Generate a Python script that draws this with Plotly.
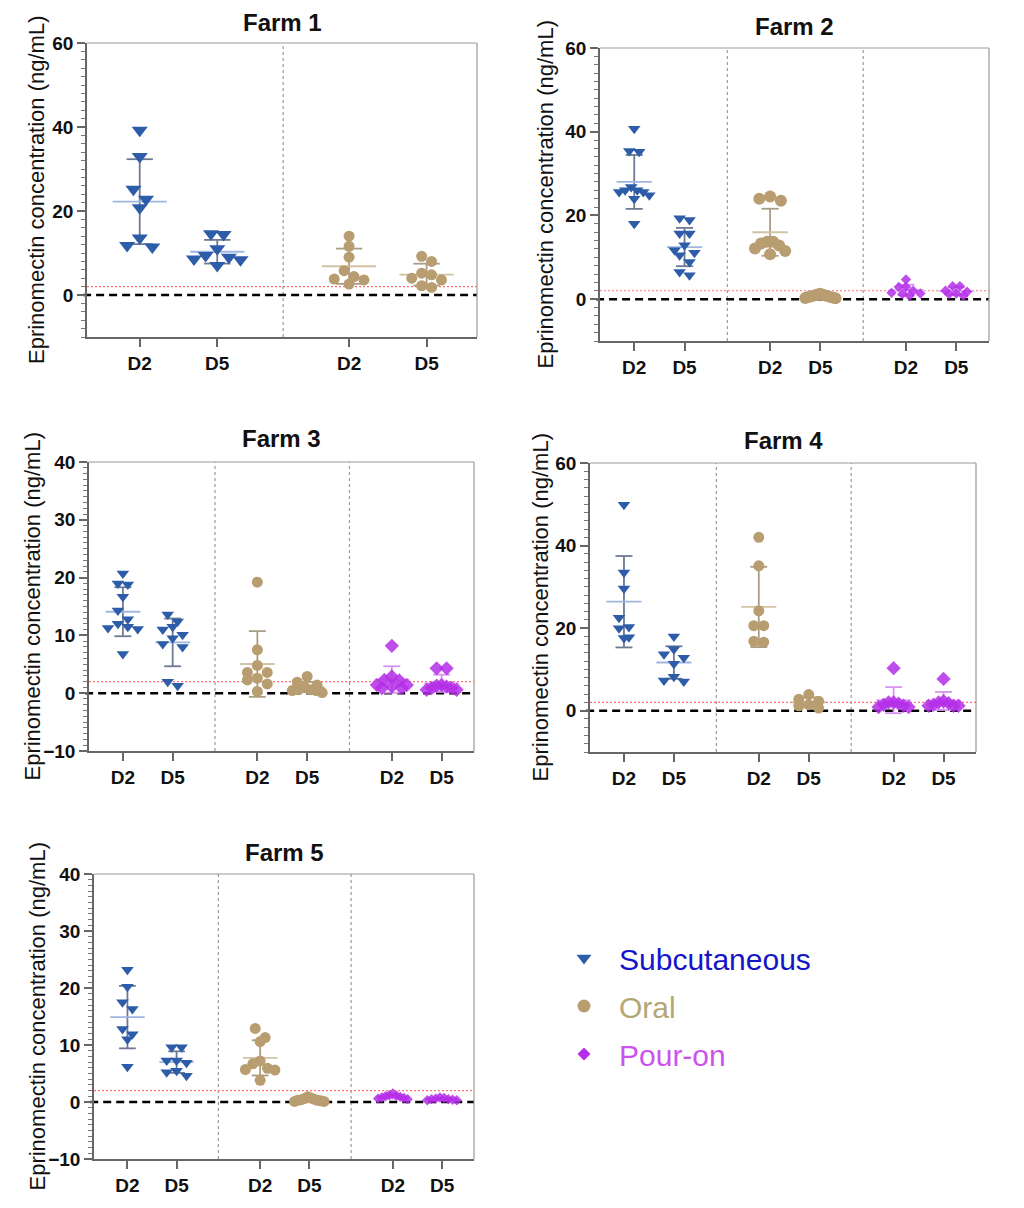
import numpy as np
import plotly.graph_objects as go

# ---------------- data (ng/mL) ----------------
farm1_sub_d2 = [39.2, 33.0, 25.2, 22.8, 20.8, 13.6, 11.8, 11.4]
farm1_sub_d5 = [14.6, 14.4, 11.0, 9.4, 9.0, 8.6, 8.4, 7.0]
farm1_oral_d2 = [14.0, 11.6, 9.0, 5.8, 4.4, 3.8, 3.6, 2.6]
farm1_oral_d5 = [9.2, 8.0, 5.2, 4.8, 4.0, 3.6, 2.2, 1.8]

farm2_sub_d2 = [40.7, 35.4, 35.2, 26.8, 26.0, 26.0, 25.6, 25.6, 24.8, 24.0, 18.0]
farm2_sub_d5 = [19.3, 18.9, 15.7, 15.7, 12.9, 11.7, 11.1, 10.5, 8.9, 6.5, 5.7]
farm2_oral_d2 = [24.5, 24.0, 23.5, 13.7, 13.7, 13.3, 12.8, 12.1, 11.5, 10.7]
farm2_oral_d5 = [1.3, 1.1, 1.0, 0.9, 0.8, 0.7, 0.6, 0.5, 0.4, 0.3, 0.2]
farm2_pour_d2 = [4.7, 2.9, 2.9, 2.0, 1.5, 1.35, 1.2, 0.8]
farm2_pour_d5 = [3.1, 3.1, 2.0, 1.75, 1.35, 1.2, 0.8]

farm3_sub_d2 = [20.7, 19.0, 18.8, 16.7, 14.3, 12.8, 12.0, 11.5, 11.3, 11.1, 6.8]
farm3_sub_d5 = [13.6, 12.4, 11.5, 11.0, 10.1, 9.5, 8.5, 8.0, 2.0, 1.3]
farm3_oral_d2 = [19.2, 7.5, 4.8, 3.6, 3.6, 2.6, 2.3, 1.6, 0.3]
farm3_oral_d5 = [2.9, 1.9, 1.4, 1.15, 0.6, 0.6, 0.45, 0.45, 0.1]
farm3_pour_d2 = [8.2, 2.9, 2.3, 2.2, 1.4, 1.4, 1.15, 0.9, 0.9]
farm3_pour_d5 = [4.3, 4.3, 1.4, 1.3, 1.15, 0.9, 0.9, 0.6, 0.6]

farm4_sub_d2 = [49.9, 33.5, 29.6, 22.5, 20.3, 20.0, 17.8, 17.6]
farm4_sub_d5 = [18.0, 14.9, 13.7, 12.8, 11.4, 8.2, 7.3, 7.1]
farm4_oral_d2 = [42.0, 35.1, 24.2, 20.6, 20.6, 16.8, 16.6]
farm4_oral_d5 = [3.9, 2.8, 2.3, 1.45, 1.2, 0.65]
farm4_pour_d2 = [10.3, 2.0, 2.0, 1.7, 1.45, 1.2, 0.9, 0.9]
farm4_pour_d5 = [7.7, 2.3, 2.0, 1.85, 1.45, 1.2, 1.2, 1.2]

farm5_sub_d2 = [23.2, 20.2, 17.5, 16.3, 12.8, 11.9, 11.0, 6.2]
farm5_sub_d5 = [9.6, 9.6, 7.3, 7.3, 6.9, 5.5, 5.2, 4.6]
farm5_oral_d2 = [12.9, 11.3, 10.6, 7.2, 6.7, 5.9, 5.7, 5.6, 3.8]
farm5_oral_d5 = [0.9, 0.7, 0.6, 0.5, 0.4, 0.3, 0.3, 0.2, 0.1, 0.1]
farm5_pour_d2 = [1.5, 1.2, 1.1, 1.0, 0.9, 0.8, 0.7, 0.6, 0.5]
farm5_pour_d5 = [0.8, 0.7, 0.6, 0.5, 0.5, 0.4, 0.3, 0.3]

day_labels = ["D2", "D5"]
farm_titles = ["Farm 1", "Farm 2", "Farm 3", "Farm 4", "Farm 5"]
route_labels = {"sub": "Subcutaneous", "oral": "Oral", "pour": "Pour-on"}
loq_value = 2.0
y_title = "Eprinomectin concentration (ng/mL)"

farms = [
    {"sub": (farm1_sub_d2, farm1_sub_d5), "oral": (farm1_oral_d2, farm1_oral_d5)},
    {"sub": (farm2_sub_d2, farm2_sub_d5), "oral": (farm2_oral_d2, farm2_oral_d5),
     "pour": (farm2_pour_d2, farm2_pour_d5)},
    {"sub": (farm3_sub_d2, farm3_sub_d5), "oral": (farm3_oral_d2, farm3_oral_d5),
     "pour": (farm3_pour_d2, farm3_pour_d5)},
    {"sub": (farm4_sub_d2, farm4_sub_d5), "oral": (farm4_oral_d2, farm4_oral_d5),
     "pour": (farm4_pour_d2, farm4_pour_d5)},
    {"sub": (farm5_sub_d2, farm5_sub_d5), "oral": (farm5_oral_d2, farm5_oral_d5),
     "pour": (farm5_pour_d2, farm5_pour_d5)},
]

# ---------------- styling / layout ----------------
OFF = 8                      # page body margin of the html page
W, H = 1024 - OFF, 1208 - OFF
FONT = "Liberation Sans, Arial, sans-serif"


def px_x(p):
    return (p - OFF) / W


def px_y(p):
    return 1 - (p - OFF) / H


STYLE = {
    "sub": dict(marker="#2d5ca8", err="#6d7a92", mean="#9fb6e2", symbol="triangle-down",
                text="#1515c8", opacity=1.0, leg_size=13),
    "oral": dict(marker="#b89d70", err="#a99d86", mean="#d0c2a2", symbol="circle",
                 text="#b3a676", opacity=1.0, leg_size=13),
    "pour": dict(marker="#b42ee8", err="#d993f3", mean="#e0acf6", symbol="diamond",
                 text="#cc52ee", opacity=0.85, leg_size=10),
}

# panel pixel boxes: (left, right, top, bottom), y range, major dtick, minor dtick, marker sizes
PANELS = [
    dict(box=(87, 477, 43, 337), yr=(-10, 60), dt=20, mdt=2, size=dict(sub=14, oral=11),
         title_y=23, ytitle_x=37),
    dict(box=(600, 989, 48, 341), yr=(-10, 60), dt=20, mdt=2, size=dict(sub=11, oral=12, pour=8),
         title_y=26, ytitle_x=545),
    dict(box=(89, 474, 462, 751), yr=(-10, 40), dt=10, mdt=1, size=dict(sub=11, oral=11, pour=11),
         title_y=438, ytitle_x=32),
    dict(box=(590, 976, 463, 752), yr=(-10, 60), dt=20, mdt=2, size=dict(sub=11, oral=11, pour=11),
         title_y=440, ytitle_x=540),
    dict(box=(94, 474, 874, 1159), yr=(-10, 40), dt=10, mdt=1, size=dict(sub=11, oral=11, pour=8),
         title_y=852, ytitle_x=37),
]

GROUP_GAP = 2.7      # distance between route groups (category units)
X_PAD_L, X_PAD_R = 0.68, 0.65


def swarm_offsets(vals, size_px, ppx, ppy, max_half=0.3):
    order = sorted(range(len(vals)), key=lambda i: -vals[i])
    rows = []
    for i in order:
        if rows and (vals[rows[-1][0]] - vals[i]) * ppy < size_px * 0.85:
            rows[-1].append(i)
        else:
            rows.append([i])
    off = [0.0] * len(vals)
    for row in rows:
        m = len(row)
        step = size_px * 0.9 / ppx
        if m > 1:
            step = min(step, 2 * max_half / (m - 1))
        if m % 2:
            slots = [0] + [s * k for k in range(1, m // 2 + 1) for s in (-1, 1)]
        else:
            slots = [s * (k - 0.5) for k in range(1, m // 2 + 1) for s in (-1, 1)]
        for idx, sl in zip(row, slots):
            off[idx] = sl * step
    return off


fig = go.Figure()
layout = dict(template="none", width=W, height=H, margin=dict(l=0, r=0, t=0, b=0, pad=0),
              paper_bgcolor="white", plot_bgcolor="white", autosize=False,
              font=dict(family=FONT, color="#111"), showlegend=True)
shapes, annotations = [], []

for p_i, (farm, pan) in enumerate(zip(farms, PANELS)):
    n = p_i + 1
    xa, ya = ("x" if n == 1 else f"x{n}"), ("y" if n == 1 else f"y{n}")
    xk, yk = ("xaxis" if n == 1 else f"xaxis{n}"), ("yaxis" if n == 1 else f"yaxis{n}")
    l, r, t, b = pan["box"]
    routes = list(farm.keys())
    centers = [g * GROUP_GAP + d for g in range(len(routes)) for d in (0, 1)]
    xr = (-X_PAD_L, centers[-1] + X_PAD_R)
    ppx = (r - l) / (xr[1] - xr[0])
    ppy = (b - t) / (pan["yr"][1] - pan["yr"][0])

    layout[xk] = dict(domain=[px_x(l), px_x(r)], range=list(xr), anchor=ya, automargin=False,
                      tickmode="array", tickvals=centers,
                      ticktext=day_labels * len(routes),
                      ticks="outside", ticklen=8, tickwidth=1.5, tickcolor="#666",
                      showline=True, linecolor="#666", linewidth=1.5,
                      showgrid=False, zeroline=False, fixedrange=True,
                      tickfont=dict(size=19, family=FONT, weight="bold", color="#111"))
    layout[yk] = dict(domain=[px_y(b), px_y(t)], range=list(pan["yr"]), anchor=xa,
                      automargin=False,
                      tick0=0, dtick=pan["dt"], ticks="outside", ticklen=8, tickwidth=1.5,
                      tickcolor="#666", showline=True, linecolor="#666", linewidth=1.5,
                      showgrid=False, zeroline=False, fixedrange=True,
                      minor=dict(dtick=pan["mdt"], tick0=0, ticks="outside", ticklen=4,
                                 tickwidth=1, tickcolor="#777", showgrid=False),
                      tickfont=dict(size=19, family=FONT, weight="bold", color="#111"))

    # frame (top/right)
    shapes.append(dict(type="line", xref=f"{xa} domain", yref=f"{ya} domain",
                       x0=0, x1=1, y0=1, y1=1, line=dict(color="#999", width=1.2)))
    shapes.append(dict(type="line", xref=f"{xa} domain", yref=f"{ya} domain",
                       x0=1, x1=1, y0=0, y1=1, line=dict(color="#999", width=1.2)))
    # group separators
    for g in range(1, len(routes)):
        sep = g * GROUP_GAP - 0.85
        shapes.append(dict(type="line", xref=xa, yref=f"{ya} domain", x0=sep, x1=sep,
                           y0=0, y1=1, layer="below",
                           line=dict(color="#9a9a9a", width=1.2, dash="dot")))
    # LOQ line and zero line
    shapes.append(dict(type="line", xref=f"{xa} domain", yref=ya, x0=0, x1=1,
                       y0=loq_value, y1=loq_value, layer="below",
                       line=dict(color="#ff6f6f", width=1.2, dash="2px,2px")))
    shapes.append(dict(type="line", xref=f"{xa} domain", yref=ya, x0=-0.01, x1=1,
                       y0=0, y1=0, layer="below",
                       line=dict(color="#000", width=2.5, dash="8px,5px")))

    for g, route in enumerate(routes):
        st = STYLE[route]
        size = pan["size"][route]
        for d, vals in enumerate(farm[route]):
            c = g * GROUP_GAP + d
            v = np.array(vals, dtype=float)
            m, sd = v.mean(), v.std(ddof=1)
            ex = [c, c, None, c - 0.17, c + 0.17, None, c - 0.17, c + 0.17]
            ey = [m - sd, m + sd, None, m + sd, m + sd, None, m - sd, m - sd]
            fig.add_trace(go.Scatter(x=ex, y=ey, mode="lines", xaxis=xa, yaxis=ya,
                                     line=dict(color=st["err"], width=1.8),
                                     showlegend=False, hoverinfo="skip"))
            fig.add_trace(go.Scatter(x=[c - 0.35, c + 0.35], y=[m, m], mode="lines",
                                     xaxis=xa, yaxis=ya,
                                     line=dict(color=st["mean"], width=1.8),
                                     showlegend=False, hoverinfo="skip"))
            offs = swarm_offsets(vals, size, ppx, ppy)
            fig.add_trace(go.Scatter(x=[c + o for o in offs], y=vals, mode="markers",
                                     xaxis=xa, yaxis=ya, showlegend=False,
                                     marker=dict(symbol=st["symbol"], size=size,
                                                 color=st["marker"], opacity=st["opacity"],
                                                 line=dict(width=0))))

    annotations.append(dict(text=f"<b>{farm_titles[p_i]}</b>", xref="paper", yref="paper",
                            x=px_x((l + r) / 2), y=px_y(pan["title_y"]),
                            xanchor="center", yanchor="middle", showarrow=False,
                            font=dict(size=24, family=FONT, color="#111")))
    annotations.append(dict(text=y_title, xref="paper", yref="paper", textangle=-90,
                            x=px_x(pan["ytitle_x"]), y=px_y((t + b) / 2),
                            xanchor="center", yanchor="middle", showarrow=False,
                            font=dict(size=22, family=FONT, color="#111")))

# legend entries
for key in ("sub", "oral", "pour"):
    st = STYLE[key]
    fig.add_trace(go.Scatter(x=[None], y=[None], mode="markers", xaxis="x5", yaxis="y5",
                             name=f'<span style="color:{st["text"]}">{route_labels[key]}</span>',
                             legendgroup=key, showlegend=True,
                             marker=dict(symbol=st["symbol"], size=st["leg_size"],
                                         color=st["marker"])))

layout["legend"] = dict(x=px_x(549), y=px_y(932), xanchor="left", yanchor="top",
                        font=dict(size=30, family=FONT), bgcolor="rgba(0,0,0,0)",
                        traceorder="grouped", tracegroupgap=6, itemwidth=60,
                        itemsizing="trace")
layout["shapes"] = shapes
layout["annotations"] = annotations
fig.update_layout(**layout)

fig.write_html("out.html")
